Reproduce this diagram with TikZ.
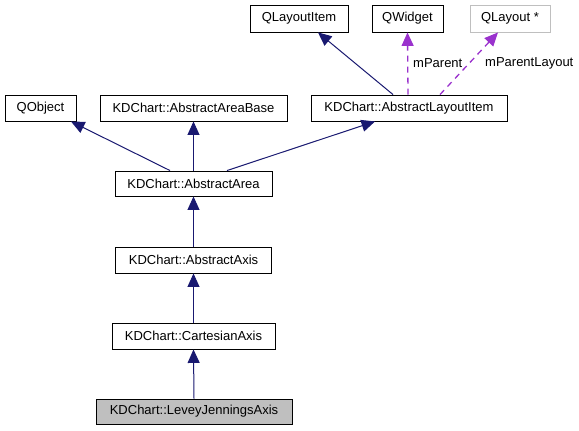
\documentclass[tikz,border=0pt]{standalone}
\usepackage{fontspec}
\setmainfont{Liberation Sans}
\usetikzlibrary{arrows.meta,calc}
\definecolor{edgeblue}{HTML}{191970}
\definecolor{edgepurple}{HTML}{9A32CD}
\definecolor{graybox}{HTML}{BFBFBF}
\begin{document}
\begin{tikzpicture}[x=1pt,y=-1pt,
  cls/.style={draw=black, line width=0.9pt, inner sep=0pt, fill=white,
    font=\fontsize{13}{15}\selectfont, minimum height=26pt},
  lbl/.style={inner sep=0pt, font=\fontsize{13}{15}\selectfont},
  inh/.style={draw=edgeblue, line width=1pt,
    -{Triangle[length=13.5pt,width=12pt,fill=edgeblue]}},
  usedash/.style={draw=edgepurple, line width=1.3pt, dash pattern=on 6pt off 5pt,
    -{Triangle[length=13.5pt,width=12pt,fill=edgepurple]}}]
\useasboundingbox (0,0) rectangle (579,431);
% row 1
\node[cls, minimum width=98pt, minimum height=27pt] (qli) at (299,18.5) {QLayoutItem};
\node[cls, minimum width=71pt, minimum height=27pt] (qw) at (407.5,18.5) {QWidget};
\node[cls, draw=graybox, minimum width=80pt, minimum height=27pt] (ql) at (510,18.5) {QLayout *};
% row 2
\node[cls, minimum width=71pt] (qo) at (40.5,108) {QObject};
\node[cls, minimum width=187pt] (aab) at (193.5,108) {KDChart::AbstractAreaBase};
\node[cls, minimum width=196pt] (ali) at (409,108) {KDChart::AbstractLayoutItem};
% lower
\node[cls, minimum width=157pt, minimum height=25pt] (aa) at (193.5,183.5) {KDChart::AbstractArea};
\node[cls, minimum width=156pt] (ax) at (193.5,260) {KDChart::AbstractAxis};
\node[cls, minimum width=163pt] (ca) at (193.5,336) {KDChart::CartesianAxis};
\node[cls, fill=graybox, minimum width=196pt, minimum height=25pt] (lj) at (194,411.5) {KDChart::LeveyJenningsAxis};
% edges
\draw[inh] (lj.north) -- (ca.south);
\draw[inh] (ca.north) -- (ax.south);
\draw[inh] (ax.north) -- (aa.south);
\draw[inh] (aa.north) -- (aab.south);
\draw[inh] ($(aa.north)+(-23.5,0)$) -- ($(qo.south)+(30.5,0)$);
\draw[inh] ($(aa.north)+(33.5,0)$) -- ($(ali.south)+(-34,0)$);
\draw[inh] ($(ali.north)+(-16,0)$) -- ($(qli.south)+(19,0)$);
\draw[usedash] ($(ali.north)+(-1,0)$) -- (qw.south);
\draw[usedash] ($(ali.north)+(31,0)$) -- ($(ql.south)+(-12,0)$);
% labels
\node[lbl, anchor=west] (lp) at (413,63) {mParent};
\node[lbl, anchor=west] (lpl) at (485,63) {mParentLayout};
\end{tikzpicture}
\end{document}
